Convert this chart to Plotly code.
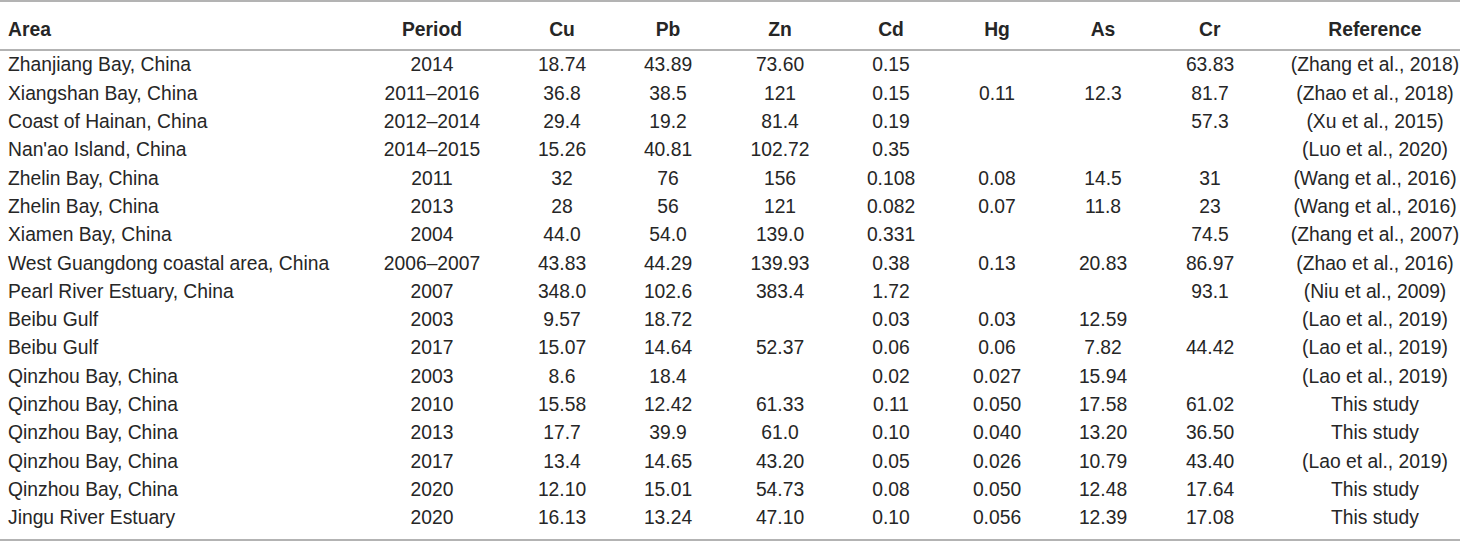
import plotly.graph_objects as go

# table content
area = ["Zhanjiang Bay, China", "Xiangshan Bay, China", "Coast of Hainan, China",
        "Nan'ao Island, China", "Zhelin Bay, China", "Zhelin Bay, China",
        "Xiamen Bay, China", "West Guangdong coastal area, China",
        "Pearl River Estuary, China", "Beibu Gulf", "Beibu Gulf",
        "Qinzhou Bay, China", "Qinzhou Bay, China", "Qinzhou Bay, China",
        "Qinzhou Bay, China", "Qinzhou Bay, China", "Jingu River Estuary"]
period = ["2014", "2011–2016", "2012–2014", "2014–2015", "2011", "2013", "2004",
          "2006–2007", "2007", "2003", "2017", "2003", "2010", "2013", "2017",
          "2020", "2020"]
cu = ["18.74", "36.8", "29.4", "15.26", "32", "28", "44.0", "43.83", "348.0",
      "9.57", "15.07", "8.6", "15.58", "17.7", "13.4", "12.10", "16.13"]
pb = ["43.89", "38.5", "19.2", "40.81", "76", "56", "54.0", "44.29", "102.6",
      "18.72", "14.64", "18.4", "12.42", "39.9", "14.65", "15.01", "13.24"]
zn = ["73.60", "121", "81.4", "102.72", "156", "121", "139.0", "139.93", "383.4",
      "", "52.37", "", "61.33", "61.0", "43.20", "54.73", "47.10"]
cd = ["0.15", "0.15", "0.19", "0.35", "0.108", "0.082", "0.331", "0.38", "1.72",
      "0.03", "0.06", "0.02", "0.11", "0.10", "0.05", "0.08", "0.10"]
hg = ["", "0.11", "", "", "0.08", "0.07", "", "0.13", "", "0.03", "0.06",
      "0.027", "0.050", "0.040", "0.026", "0.050", "0.056"]
as_ = ["", "12.3", "", "", "14.5", "11.8", "", "20.83", "", "12.59", "7.82",
       "15.94", "17.58", "13.20", "10.79", "12.48", "12.39"]
cr = ["63.83", "81.7", "57.3", "", "31", "23", "74.5", "86.97", "93.1", "",
      "44.42", "", "61.02", "36.50", "43.40", "17.64", "17.08"]
reference = ["(Zhang et al., 2018)", "(Zhao et al., 2018)", "(Xu et al., 2015)",
             "(Luo et al., 2020)", "(Wang et al., 2016)", "(Wang et al., 2016)",
             "(Zhang et al., 2007)", "(Zhao et al., 2016)", "(Niu et al., 2009)",
             "(Lao et al., 2019)", "(Lao et al., 2019)", "(Lao et al., 2019)",
             "This study", "This study", "(Lao et al., 2019)", "This study",
             "This study"]
headers = ["Area", "Period", "Cu", "Pb", "Zn", "Cd", "Hg", "As", "Cr", "Reference"]

W, H = 1460, 541
textColor = "#262626"
ruleColor = "#9a9a9a"
fontTable = dict(family="Liberation Sans, Arial, sans-serif", size=19.3, color=textColor)


def nobreak(col):
    # keep plotly from wrapping cell text at spaces
    return [s.replace(" ", "\u00a0") for s in col]


columns = [area, period, cu, pb, zn, cd, hg, as_, cr, reference]

fig = go.Figure()
fig.add_trace(go.Table(
    columnwidth=[380, 104, 156, 56, 168, 54, 158, 54, 160, 170],
    header=dict(
        values=["<b>%s</b>" % h for h in headers],
        align=["left"] + ["center"] * 9,
        font=fontTable,
        fill_color="white",
        line=dict(color="white", width=0),
        height=38,
    ),
    cells=dict(
        values=[nobreak(c) for c in columns],
        align=["left"] + ["center"] * 9,
        font=fontTable,
        fill_color="white",
        line=dict(color="white", width=0),
        height=28.3,
    ),
    domain=dict(x=[0, 1], y=[0, 1 - 11 / H]),
))

# horizontal rules (pixel rows -> paper coords)
for py in [1, 50, 540]:
    yy = 1 - py / H
    fig.add_shape(type="line", xref="paper", yref="paper", x0=0, x1=1, y0=yy, y1=yy,
                  line=dict(color=ruleColor, width=1.5))

fig.update_layout(width=W, height=H, margin=dict(l=0, r=0, t=0, b=0),
                  paper_bgcolor="white", plot_bgcolor="white")

fig.write_html("out.html", config={"displayModeBar": False},
               post_script="document.body.style.margin='0';document.body.style.overflow='hidden';")
